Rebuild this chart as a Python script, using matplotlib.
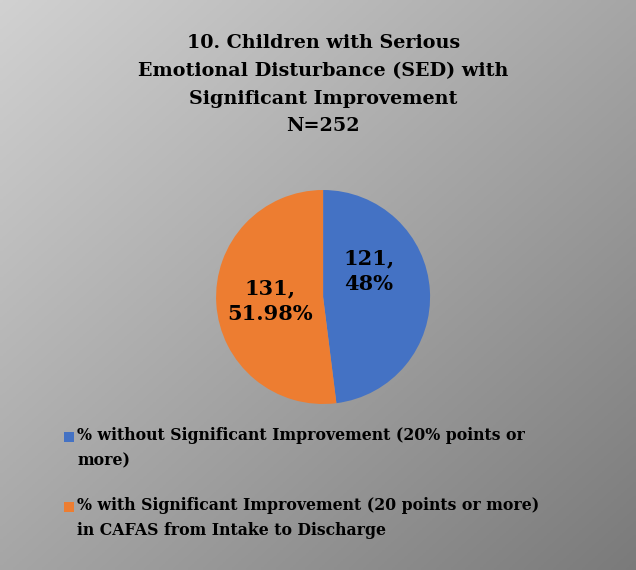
import numpy as np
import matplotlib.pyplot as plt
from matplotlib.patches import Rectangle

# Data
labels = [
    "% without Significant Improvement (20% points or\nmore)",
    "% with Significant Improvement (20 points or more)\nin CAFAS from Intake to Discharge",
]
counts = [121, 131]
pct_text = ["48%", "51.98%"]
colors = ["#4472C4", "#ED7D31"]

title = ("10. Children with Serious\nEmotional Disturbance (SED) with\n"
         "Significant Improvement\nN=252")

plt.rcParams["font.family"] = ["DejaVu Serif"]
plt.rcParams["font.weight"] = "bold"

fig = plt.figure(figsize=(6.36, 5.70), dpi=100)

# gradient background, light top-left to darker bottom-right
bg = fig.add_axes([0, 0, 1, 1], zorder=0)
yy, xx = np.mgrid[0:1:200j, 0:1:200j]
grad = 0.82 - 0.34 * (xx + yy) / 2.0
bg.imshow(np.dstack([grad, grad, grad]), extent=[0, 1, 0, 1],
          origin="upper", aspect="auto")
bg.set_axis_off()

fig.text(0.508, 1 - 34 / 570, title, ha="center", va="top", fontsize=13.8,
         fontweight="bold", linespacing=1.7)

# pie
ax = fig.add_axes([0.3, 0.3, 0.4, 0.4], zorder=1)
ax.pie(counts, colors=colors, startangle=90, counterclock=False, radius=1.0)
ax.set_xlim(-1.0, 1.0)
ax.set_ylim(-1.0, 1.0)
ax.set_aspect("equal")
ax.set_position([0.508 - 107 / 636, 1 - (297 + 107) / 570, 214 / 636, 214 / 570])

label_pos = [(0.43, 0.245), (-0.5, -0.04)]
for (x, y), c, p in zip(label_pos, counts, pct_text):
    ax.text(x, y, f"{c},\n{p}", ha="center", va="center", fontsize=15,
            fontweight="bold", linespacing=1.35)

# legend
leg_y = [437, 507]
for y, lab, col in zip(leg_y, labels, colors):
    fig.patches.append(Rectangle((64 / 636, 1 - (y + 5) / 570), 10 / 636,
                                 10 / 570, transform=fig.transFigure,
                                 facecolor=col, edgecolor="none", zorder=3))
    fig.text(77 / 636, 1 - (y - 10) / 570, lab, ha="left", va="top", fontsize=11.3,
             fontweight="bold", linespacing=1.65, zorder=3)

plt.savefig("out.png", dpi=100)
